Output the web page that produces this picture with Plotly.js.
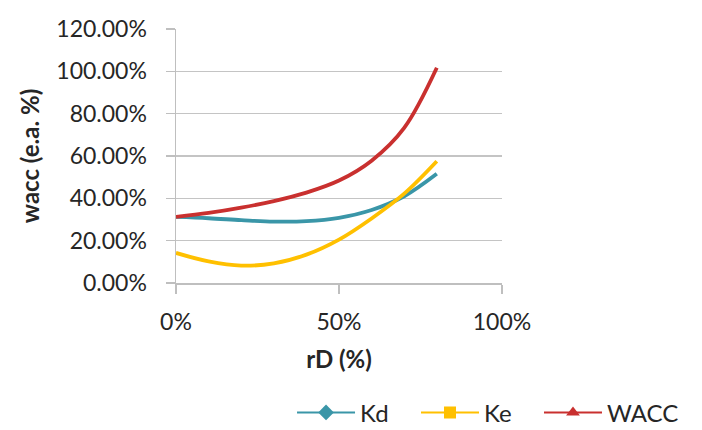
<!DOCTYPE html>
<html>
<head>
<meta charset="utf-8">
<script src="https://cdn.plot.ly/plotly-3.0.1.min.js"></script>
<style>html,body{margin:0;padding:0;background:#fff;}#chart{width:702px;height:430px;}</style>
</head>
<body>
<div id="chart"></div>
<script>
const rD = [0, 0.1, 0.2, 0.3, 0.4, 0.5, 0.6, 0.7, 0.8];
const Kd = [0.312, 0.306, 0.297, 0.290, 0.292, 0.308, 0.345, 0.410, 0.516];
const Ke = [0.142, 0.102, 0.082, 0.093, 0.134, 0.205, 0.305, 0.422, 0.575];
const WACC = [0.312, 0.331, 0.356, 0.387, 0.427, 0.484, 0.578, 0.733, 1.017];
const seriesNames = ['Kd', 'Ke', 'WACC'];
const colors = ['#3A96A8', '#FFC000', '#C9302F'];
const symbols = ['diamond', 'square', 'triangle-up'];
const values = [Kd, Ke, WACC];
const legendIds = ['legend', 'legend2', 'legend3'];

const font = 'Lato, "Open Sans", sans-serif';
const traces = [];
values.forEach((v, i) => {
  traces.push({x: rD, y: v, type: 'scatter', mode: 'lines', name: seriesNames[i],
    line: {color: colors[i], width: 3.8, shape: 'spline', smoothing: 1}, showlegend: false});
});
values.forEach((v, i) => {
  traces.push({x: [null], y: [null], type: 'scatter', mode: 'lines+markers', name: seriesNames[i],
    legend: legendIds[i],
    line: {color: colors[i], width: 2}, marker: {symbol: symbols[i], size: 12, color: colors[i]}});
});

const legendBase = {orientation: 'h', xref: 'container', yref: 'container', y: 0.04,
  xanchor: 'left', yanchor: 'middle', itemwidth: 58, font: {size: 24}, bgcolor: 'rgba(0,0,0,0)'};

const layout = {
  width: 702, height: 430,
  margin: {l: 176, r: 200, t: 29, b: 147, autoexpand: false},
  paper_bgcolor: '#fff', plot_bgcolor: '#fff',
  font: {family: font, size: 23, color: '#262626'},
  xaxis: {range: [0, 1], dtick: 0.5, tick0: 0, tickformat: '.0%',
    showgrid: false, zeroline: false, showline: true, linecolor: '#BFBFBF', linewidth: 1.5,
    ticks: 'outside', ticklen: 9, tickcolor: '#BFBFBF', tickwidth: 1.5, ticklabelstandoff: 9,
    title: {text: '<b>rD (%)</b>', font: {size: 24}, standoff: 17}},
  yaxis: {range: [0, 1.2], dtick: 0.2, tick0: 0, tickformat: '.2%',
    showgrid: true, gridcolor: '#C4C4C4', gridwidth: 1.5, zeroline: false,
    showline: true, linecolor: '#BFBFBF', linewidth: 1.5,
    ticks: 'outside', ticklen: 9, tickcolor: '#BFBFBF', tickwidth: 1.5, ticklabelstandoff: 14,
    title: {text: '<b>wacc (e.a. %)</b>', font: {size: 24}, standoff: 10}},
  legend: Object.assign({}, legendBase, {x: 0.416}),
  legend2: Object.assign({}, legendBase, {x: 0.5926}),
  legend3: Object.assign({}, legendBase, {x: 0.7678}),
  showlegend: true
};
Plotly.newPlot('chart', traces, layout, {displayModeBar: false, staticPlot: true});
</script>
</body>
</html>
